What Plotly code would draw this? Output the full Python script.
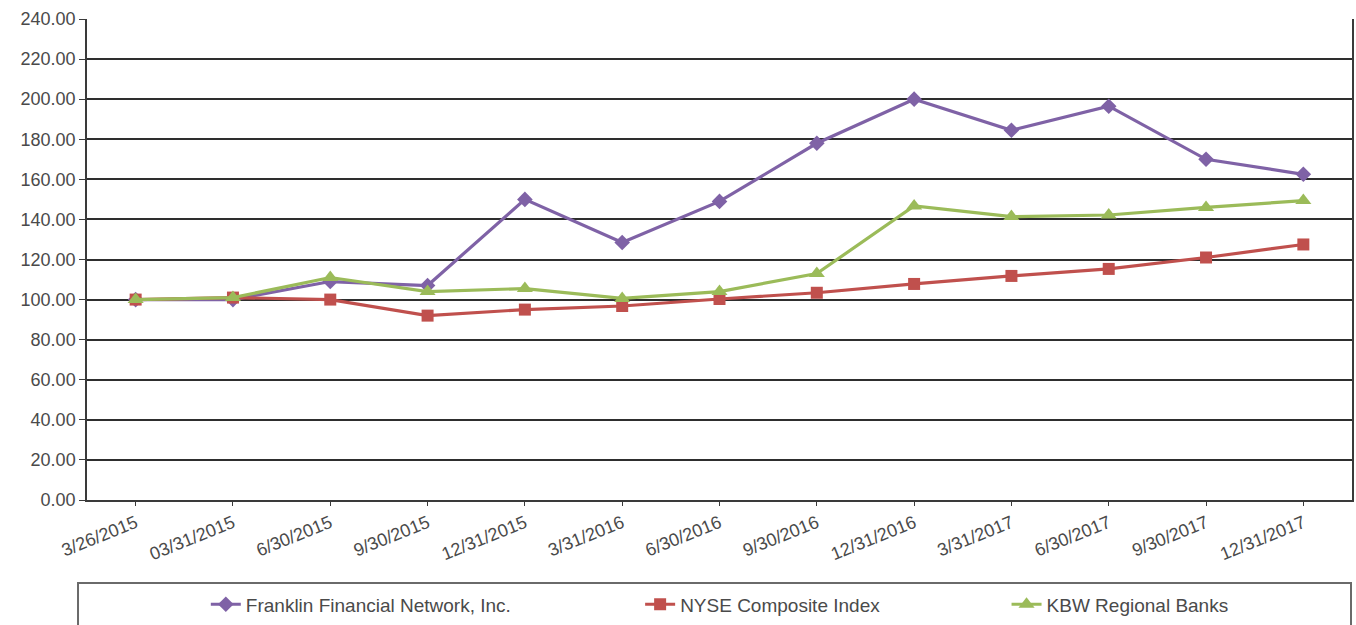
import plotly.graph_objects as go

dates = ["3/26/2015", "03/31/2015", "6/30/2015", "9/30/2015", "12/31/2015", "3/31/2016",
         "6/30/2016", "9/30/2016", "12/31/2016", "3/31/2017", "6/30/2017", "9/30/2017", "12/31/2017"]
franklin = [100, 100, 109, 107, 150, 128.5, 149, 178, 200, 184.5, 196.5, 170, 162.5]
nyse = [100, 101, 100, 92, 95, 96.8, 100.3, 103.4, 107.8, 111.8, 115.3, 121, 127.5]
kbw = [100, 101, 111, 104, 105.5, 100.6, 104, 113, 146.7, 141.4, 142.2, 146, 149.4]

names = ["Franklin Financial Network, Inc.", "NYSE Composite Index", "KBW Regional Banks"]
colors = ["#7F62A6", "#C0504D", "#9BBB59"]
symbols = ["diamond", "square", "triangle-up"]
sizes = [12, 12, 14]
legends = ["legend2", "legend3", "legend4"]

fig = go.Figure()
for vals, name, col, sym, sz, lg in zip([franklin, nyse, kbw], names, colors, symbols, sizes, legends):
    fig.add_trace(go.Scatter(
        x=dates, y=vals, name=name, mode="lines+markers",
        line=dict(color=col, width=3.2),
        marker=dict(symbol=sym, size=sz, color=col),
        legend=lg, showlegend=True,
    ))

font_col = "#4a4a4a"
leg_common = dict(orientation="h", yanchor="middle", xanchor="left",
                  font=dict(family="Liberation Sans, Arial", size=19, color=font_col),
                  bgcolor="rgba(0,0,0,0)", borderwidth=0)

fig.update_layout(
    width=1356, height=625,
    margin=dict(l=87, r=2, t=19, b=125),
    paper_bgcolor="white", plot_bgcolor="white",
    font=dict(family="Liberation Sans, Arial", color=font_col),
    showlegend=True,
    legend2=dict(x=(206 - 87) / 1267, y=-0.217, **leg_common),
    legend3=dict(x=(641 - 87) / 1267, y=-0.217, **leg_common),
    legend4=dict(x=(1008 - 87) / 1267, y=-0.217, **leg_common),
    xaxis=dict(
        type="category", showgrid=False, showline=True, linecolor="#3a3a3a", linewidth=1.5,
        ticks="outside", ticklen=4, tickcolor="#3a3a3a", tickangle=-22,
        tickfont=dict(size=18, color=font_col), range=[-0.5, 12.5],
    ),
    yaxis=dict(
        range=[0, 240], dtick=20, tickformat=".2f", showgrid=True,
        gridcolor="#2e2e2e", gridwidth=1.7, showline=True, linecolor="#3a3a3a", linewidth=1.5,
        mirror=True, ticks="outside", ticklen=6, tickcolor="#3a3a3a",
        tickfont=dict(size=18, color=font_col), zeroline=False,
    ),
    shapes=[dict(type="rect", xref="paper", yref="paper",
                 x0=(78 - 87) / 1267, x1=(1353 - 87) / 1267,
                 y0=(500 - 640) / 481, y1=(500 - 583) / 481,
                 line=dict(color="#6a6a6a", width=2), fillcolor="rgba(0,0,0,0)")],
)

fig.write_html("out.html")
